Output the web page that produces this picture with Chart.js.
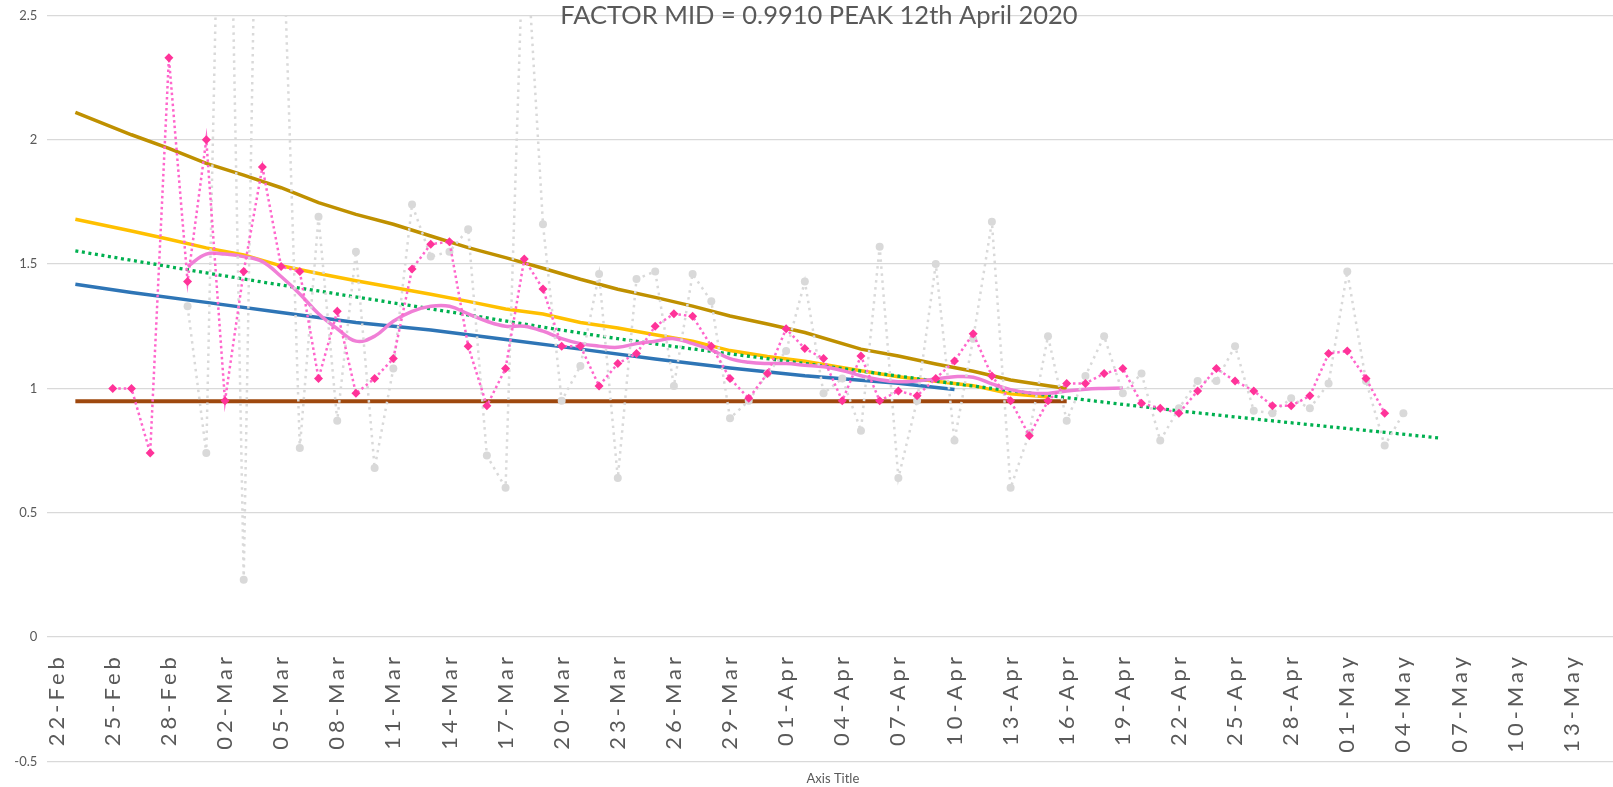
<!DOCTYPE html>
<html>
<head>
<meta charset="utf-8">
<script src="https://cdn.jsdelivr.net/npm/chart.js@4.4.1/dist/chart.umd.min.js"></script>
<style>
  html, body { margin: 0; padding: 0; background: #fff; overflow: hidden; }
  #wrap { width: 1623px; height: 787px; }
</style>
</head>
<body>
<div id="wrap"><canvas id="grafica" width="1623" height="787"></canvas></div>
<script>
// dias del eje (22-Feb a 15-May 2020)
const dias = [
  "22-Feb","23-Feb","24-Feb","25-Feb","26-Feb","27-Feb","28-Feb","29-Feb",
  "01-Mar","02-Mar","03-Mar","04-Mar","05-Mar","06-Mar","07-Mar","08-Mar","09-Mar","10-Mar",
  "11-Mar","12-Mar","13-Mar","14-Mar","15-Mar","16-Mar","17-Mar","18-Mar","19-Mar","20-Mar",
  "21-Mar","22-Mar","23-Mar","24-Mar","25-Mar","26-Mar","27-Mar","28-Mar","29-Mar","30-Mar","31-Mar",
  "01-Apr","02-Apr","03-Apr","04-Apr","05-Apr","06-Apr","07-Apr","08-Apr","09-Apr","10-Apr",
  "11-Apr","12-Apr","13-Apr","14-Apr","15-Apr","16-Apr","17-Apr","18-Apr","19-Apr","20-Apr",
  "21-Apr","22-Apr","23-Apr","24-Apr","25-Apr","26-Apr","27-Apr","28-Apr","29-Apr","30-Apr",
  "01-May","02-May","03-May","04-May","05-May","06-May","07-May","08-May","09-May","10-May",
  "11-May","12-May","13-May","14-May","15-May"
];

// etiquetas visibles del eje x
const etiquetasX = [
  "22-Feb","25-Feb","28-Feb","02-Mar","05-Mar","08-Mar","11-Mar","14-Mar","17-Mar","20-Mar",
  "23-Mar","26-Mar","29-Mar","01-Apr","04-Apr","07-Apr","10-Apr","13-Apr","16-Apr","19-Apr",
  "22-Apr","25-Apr","28-Apr","01-May","04-May","07-May","10-May","13-May"
];

// factor diario (gris, puntos)
const factorDiario = [
  null, null, null, null, null, null, null,
  1.33, 0.74, 4.3, 0.23, 4.6, 3.1, 0.76, 1.69, 0.87, 1.55, 0.68, 1.08, 1.74, 1.53,
  1.55, 1.64, 0.73, 0.60, 2.95, 1.66, 0.95, 1.09, 1.46, 0.64, 1.44, 1.47, 1.01, 1.46,
  1.35, 0.88, 0.95, 1.06, 1.15, 1.43, 0.98, 1.04, 0.83, 1.57, 0.64, 0.95, 1.50, 0.79,
  1.20, 1.67, 0.60, 0.82, 1.21, 0.87, 1.05, 1.21, 0.98, 1.06, 0.79, 0.92, 1.03, 1.03,
  1.17, 0.91, 0.90, 0.96, 0.92, 1.02, 1.47, 1.03, 0.77, 0.90,
  null, null, null, null, null, null, null, null, null, null, null
];

// factor suavizado (rosa, rombos)
const factorRombos = [
  null, null, null,
  1.00, 1.00, 0.74, 2.33, 1.43, 2.00, 0.95, 1.47, 1.89, 1.49, 1.47, 1.04, 1.31, 0.98,
  1.04, 1.12, 1.48, 1.58, 1.59, 1.17, 0.93, 1.08, 1.52, 1.40, 1.17, 1.17, 1.01, 1.10,
  1.14, 1.25, 1.30, 1.29, 1.17, 1.04, 0.96, 1.06, 1.24, 1.16, 1.12, 0.95, 1.13, 0.95,
  0.99, 0.97, 1.04, 1.11, 1.22, 1.05, 0.95, 0.81, 0.95, 1.02, 1.02, 1.06, 1.08, 0.94,
  0.92, 0.90, 0.99, 1.08, 1.03, 0.99, 0.93, 0.93, 0.97, 1.14, 1.15, 1.04, 0.90,
  null, null, null, null, null, null, null, null, null, null, null, null
];

// media movil (rosa continua)
const mediaMovil = [
  null, null, null, null, null, null, null,
  1.49, 1.54, 1.54, 1.53, 1.51, 1.45, 1.38, 1.30, 1.24, 1.19, 1.21, 1.27, 1.31, 1.33,
  1.33, 1.30, 1.27, 1.25, 1.25, 1.23, 1.20, 1.18, 1.17, 1.165, 1.18, 1.19, 1.20, 1.18,
  1.155, 1.12, 1.105, 1.10, 1.10, 1.093, 1.087, 1.072, 1.051, 1.035, 1.027, 1.03, 1.038, 1.047,
  1.045, 1.018, 0.995, 0.982, 0.98, 0.99, 0.997, 1.0, 1.002,
  null, null, null, null, null, null, null, null, null, null, null, null, null,
  null, null, null, null, null, null, null, null, null, null, null, null, null
];

// curvas de tendencia (fechas y valores leidos)
const fechasOro = ["23-Feb","26-Feb","28-Feb","01-Mar","03-Mar","05-Mar","07-Mar","09-Mar","11-Mar","13-Mar",
  "15-Mar","17-Mar","19-Mar","21-Mar","23-Mar","25-Mar","27-Mar","29-Mar","31-Mar","02-Apr",
  "05-Apr","07-Apr","09-Apr","11-Apr","13-Apr","15-Apr","16-Apr"];
const valoresOro = [2.11, 2.02, 1.965, 1.905, 1.858, 1.807, 1.747, 1.70, 1.66, 1.613,
  1.566, 1.526, 1.483, 1.439, 1.399, 1.366, 1.331, 1.291, 1.259, 1.225,
  1.158, 1.13, 1.098, 1.069, 1.034, 1.011, 1.0];

const fechasAmarillo = ["23-Feb","26-Feb","28-Feb","01-Mar","03-Mar","05-Mar","07-Mar","09-Mar","11-Mar","13-Mar",
  "15-Mar","17-Mar","19-Mar","21-Mar","23-Mar","25-Mar","27-Mar","29-Mar","31-Mar","02-Apr",
  "05-Apr","07-Apr","09-Apr","11-Apr","13-Apr","15-Apr"];
const valoresAmarillo = [1.68, 1.633, 1.60, 1.565, 1.537, 1.493, 1.462, 1.433, 1.406, 1.379,
  1.35, 1.319, 1.299, 1.265, 1.243, 1.216, 1.19, 1.152, 1.128, 1.109,
  1.071, 1.047, 1.029, 1.011, 0.978, 0.965];

const fechasAzul = ["23-Feb","26-Feb","01-Mar","05-Mar","09-Mar","13-Mar","17-Mar","21-Mar","25-Mar","29-Mar","02-Apr","07-Apr","10-Apr"];
const valoresAzul = [1.419, 1.386, 1.346, 1.305, 1.265, 1.235, 1.197, 1.158, 1.118, 1.082, 1.051, 1.021, 0.996];

const fechasVerde = ["23-Feb","03-Mar","13-Mar","23-Mar","02-Apr","12-Apr","22-Apr","06-May"];
const valoresVerde = [1.553, 1.44, 1.32, 1.20, 1.10, 1.00, 0.91, 0.80];

const fechasMarron = ["23-Feb","16-Apr"];
const valoresMarron = [0.948, 0.948];

const titulo = "FACTOR MID = 0.9910 PEAK 12th April 2020";
const tituloEje = "Axis Title";

function pares(fechas, valores) {
  return fechas.map((f, i) => ({ x: f, y: valores[i] }));
}

const gris = "#595959";
const letra = "Lato, 'Open Sans', sans-serif";

// espaciado de letras para las fechas del eje x (se dibujan despues de los datos)
const espaciado = {
  id: "espaciado",
  afterDatasetsDraw(chart) { chart.ctx.letterSpacing = "4px"; },
  afterDraw(chart) { chart.ctx.letterSpacing = "0px"; },
};

const canvas = document.getElementById("grafica");
const ctx = canvas.getContext("2d");

let grafico = new Chart(ctx, {
  type: "line",
  plugins: [espaciado],
  data: {
    labels: dias,
    datasets: [
      {
        label: "rombos",
        data: factorRombos,
        borderColor: "#ff66cc",
        borderWidth: 2.5,
        borderDash: [2.5, 3],
        pointStyle: "rectRot",
        pointRadius: 4.5,
        pointBackgroundColor: "#ff3399",
        pointBorderColor: "#ff3399",
        pointBorderWidth: 0,
      },
      {
        label: "diario",
        data: factorDiario,
        borderColor: "#d9d9d9",
        borderWidth: 2.5,
        borderDash: [2.5, 4.5],
        pointStyle: "circle",
        pointRadius: 4,
        pointBackgroundColor: "#d9d9d9",
        pointBorderWidth: 0,
      },
      {
        label: "media",
        data: mediaMovil,
        borderColor: "#f07fd6",
        borderWidth: 3.5,
        tension: 0.4,
        pointRadius: 0,
      },
      {
        label: "tendencia",
        data: pares(fechasVerde, valoresVerde),
        borderColor: "#00b050",
        borderWidth: 3.3,
        borderDash: [3, 3.6],
        cubicInterpolationMode: "monotone",
        pointRadius: 0,
      },
      {
        label: "azul",
        data: pares(fechasAzul, valoresAzul),
        borderColor: "#2e75b6",
        borderWidth: 3.5,
        pointRadius: 0,
      },
      {
        label: "amarillo",
        data: pares(fechasAmarillo, valoresAmarillo),
        borderColor: "#ffc000",
        borderWidth: 3.5,
        pointRadius: 0,
      },
      {
        label: "oro",
        data: pares(fechasOro, valoresOro),
        borderColor: "#bf9000",
        borderWidth: 3.5,
        pointRadius: 0,
      },
      {
        label: "marron",
        data: pares(fechasMarron, valoresMarron),
        borderColor: "#9e480e",
        borderWidth: 4,
        pointRadius: 0,
      },
    ],
  },
  options: {
    responsive: false,
    animation: false,
    layout: { padding: { left: 15, right: 0, top: 0, bottom: 0 } },
    plugins: {
      legend: { display: false },
      tooltip: { enabled: false },
      title: {
        display: true,
        text: titulo,
        color: gris,
        font: { family: letra, size: 25.5, weight: "normal" },
        padding: { top: 0.6, bottom: -15.8 },
      },
    },
    scales: {
      x: {
        type: "category",
        position: { y: 0 },
        offset: true,
        grid: { display: false, drawTicks: false },
        border: { display: false },
        ticks: {
          z: 1,
          autoSkip: false,
          minRotation: 90,
          maxRotation: 90,
          padding: 16,
          color: gris,
          font: { family: letra, size: 22 },
          callback: function (valor) {
            const d = this.getLabelForValue(valor);
            return etiquetasX.includes(d) ? d : "";
          },
        },
        afterFit(s) { s.paddingLeft = 0; s.paddingRight = 0; },
      },
      x2: {
        type: "category",
        position: "bottom",
        grid: { display: false, drawTicks: false },
        border: { display: false },
        ticks: { display: false },
        title: {
          display: true,
          text: tituloEje,
          color: gris,
          font: { family: letra, size: 13 },
          padding: { top: 10, bottom: 0 },
        },
        afterFit(s) { s.paddingLeft = 0; s.paddingRight = 0; },
      },
      y: {
        position: "left",
        min: -0.5,
        max: 2.5,
        grid: { color: "#d9d9d9", lineWidth: 1.3, drawTicks: false },
        border: { display: false },
        ticks: {
          stepSize: 0.5,
          padding: 10,
          color: gris,
          font: { family: letra, size: 13 },
          callback: (v) => String(v),
        },
        afterFit(s) { s.width = 32.3; s.paddingTop = 0; s.paddingBottom = 0; },
      },
    },
  },
});
</script>
</body>
</html>
